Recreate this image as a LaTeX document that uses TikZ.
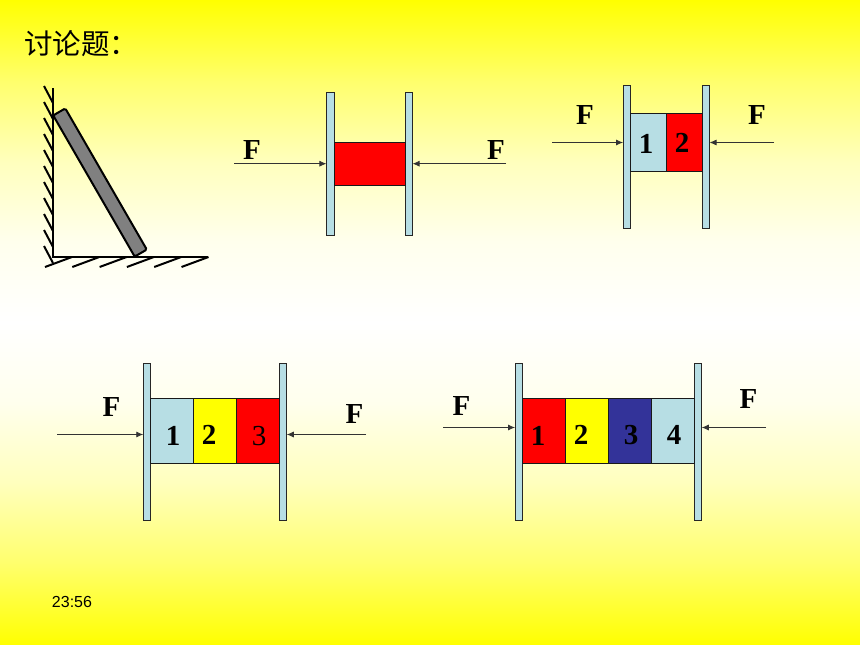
\documentclass[tikz,border=0pt]{standalone}
\usepackage{fontspec}
\setmainfont{Liberation Serif}
\setsansfont{Liberation Sans}
\newfontfamily\cjk{Noto Sans CJK SC}
\usetikzlibrary{positioning, arrows.meta}
\definecolor{paleblue}{RGB}{183,222,228}
\definecolor{darkblue}{RGB}{51,51,153}
\definecolor{pureyellow}{RGB}{255,255,0}
\pgfdeclareverticalshading{paper}{100bp}{
	rgb(0bp)=(1,1,0); rgb(25bp)=(1,1,0); rgb(31.25bp)=(1,1,0.42); rgb(37.5bp)=(1,1,0.74); rgb(43.75bp)=(1,1,0.93);
	rgb(50bp)=(1,1,1);
	rgb(56.25bp)=(1,1,0.93); rgb(62.5bp)=(1,1,0.74); rgb(68.75bp)=(1,1,0.42); rgb(75bp)=(1,1,0); rgb(100bp)=(1,1,0)}
\tikzstyle{plate} = [draw=black!85, fill=paleblue, line width=0.8pt, inner sep=0, outer sep=0, minimum width=7.5pt]
\tikzstyle{block} = [draw=black!90, line width=0.8pt, inner sep=0, outer sep=0]
\tikzstyle{force} = [draw=black!80, line width=0.8pt, -{Latex[length=7pt,width=6pt]}]
\tikzstyle{label} = [font=\fontsize{29}{29}\selectfont\bfseries, inner sep=0]
\tikzstyle{hatch} = [draw=black, line width=2pt]

\begin{document}
\begin{tikzpicture}[x=1pt, y=-1pt]
	\useasboundingbox (0,0) rectangle (860,645);
	\shade [shading=paper] (0,0) rectangle (860,645);

	\node [font=\cjk\fontsize{28.5}{28.5}\selectfont, anchor=west, inner sep=0] (title) at (24,44) {讨论题：};
	\node [font=\sffamily\fontsize{16}{16}\selectfont, inner sep=0] (clock) at (72,601.5) {23:56};

	% wall and floor
	\draw [hatch] (53,88) -- (53,258);
	\draw [hatch] (53,257) -- (208,257);
	\foreach \y in {86,102,...,246}
		\draw [hatch] (44,\y) -- (53,\y+17);
	\foreach \x in {45,72.3,...,190}
		\draw [hatch] (\x,267) -- (\x+27,257);
	\node [draw=black, fill=black!50, line width=2pt, rounded corners=1.5pt, rotate=-60, minimum width=163pt, minimum height=14pt, inner sep=0] (rod) at (100,182.5) {};

	% one block
	\node [plate, minimum height=143pt] (pa1) at (330.2,163.5) {};
	\node [plate, minimum height=143pt] (pa2) at (408.8,163.5) {};
	\node [block, fill=red, minimum width=71pt, minimum height=43pt] (ba1) at (369.5,163.5) {};
	\coordinate (fa1) at (234,163.7);
	\coordinate (fa2) at (506,163.7);
	\path [force] (fa1) -- (fa1 -| pa1.west);
	\path [force] (fa2) -- (fa2 -| pa2.east);
	\node [label] (la1) at (252,150.5) {F};
	\node [label] (la2) at (496,150.5) {F};

	% two blocks
	\node [plate, minimum height=143.5pt] (pb1) at (626.8,156.7) {};
	\node [plate, minimum height=143.5pt] (pb2) at (705.8,156.7) {};
	\node [block, fill=paleblue, minimum width=36pt, minimum height=57.5pt] (bb1) at (648.5,142.3) {};
	\node [block, fill=red, minimum width=36pt, minimum height=57.5pt, right=0pt of bb1] (bb2) {};
	\coordinate (fb1) at (552,142.5);
	\coordinate (fb2) at (774,142.5);
	\path [force] (fb1) -- (fb1 -| pb1.west);
	\path [force] (fb2) -- (fb2 -| pb2.east);
	\node [label] (lb1) at (585,115) {F};
	\node [label] (lb2) at (757,115) {F};
	\node [label] (nb1) at (646,144) {1};
	\node [label] (nb2) at (682,143) {2};

	% three blocks
	\node [plate, minimum height=157.5pt] (pc1) at (147,441.7) {};
	\node [plate, minimum height=157.5pt] (pc2) at (283,441.7) {};
	\node [block, fill=paleblue, minimum width=43pt, minimum height=64.5pt] (bc1) at (172.3,430.8) {};
	\node [block, fill=pureyellow, minimum width=43pt, minimum height=64.5pt, right=0pt of bc1] (bc2) {};
	\node [block, fill=red, minimum width=43pt, minimum height=64.5pt, right=0pt of bc2] (bc3) {};
	\coordinate (fc1) at (57,434.5);
	\coordinate (fc2) at (366,434.5);
	\path [force] (fc1) -- (fc1 -| pc1.west);
	\path [force] (fc2) -- (fc2 -| pc2.east);
	\node [label] (lc1) at (111.5,407.5) {F};
	\node [label] (lc2) at (354.5,414.5) {F};
	\node [label] (nc1) at (173,436) {1};
	\node [label] (nc2) at (209,435) {2};
	\node [label, font=\fontsize{29}{29}\selectfont] (nc3) at (259,436) {3};

	% four blocks
	\node [plate, minimum height=157.5pt] (pd1) at (518.8,441.7) {};
	\node [plate, minimum height=157.5pt] (pd2) at (698,441.7) {};
	\node [block, fill=red, minimum width=43pt, minimum height=64.5pt] (bd1) at (544,430.8) {};
	\node [block, fill=pureyellow, minimum width=43pt, minimum height=64.5pt, right=0pt of bd1] (bd2) {};
	\node [block, fill=darkblue, minimum width=43pt, minimum height=64.5pt, right=0pt of bd2] (bd3) {};
	\node [block, fill=paleblue, minimum width=43pt, minimum height=64.5pt, right=0pt of bd3] (bd4) {};
	\coordinate (fd1) at (443,427.5);
	\coordinate (fd2) at (766,427.5);
	\path [force] (fd1) -- (fd1 -| pd1.west);
	\path [force] (fd2) -- (fd2 -| pd2.east);
	\node [label] (ld1) at (461.5,406.5) {F};
	\node [label] (ld2) at (748.5,399.5) {F};
	\node [label] (nd1) at (538,436) {1};
	\node [label] (nd2) at (581,435) {2};
	\node [label] (nd3) at (631,435) {3};
	\node [label] (nd4) at (674,435) {4};
\end{tikzpicture}
\end{document}
